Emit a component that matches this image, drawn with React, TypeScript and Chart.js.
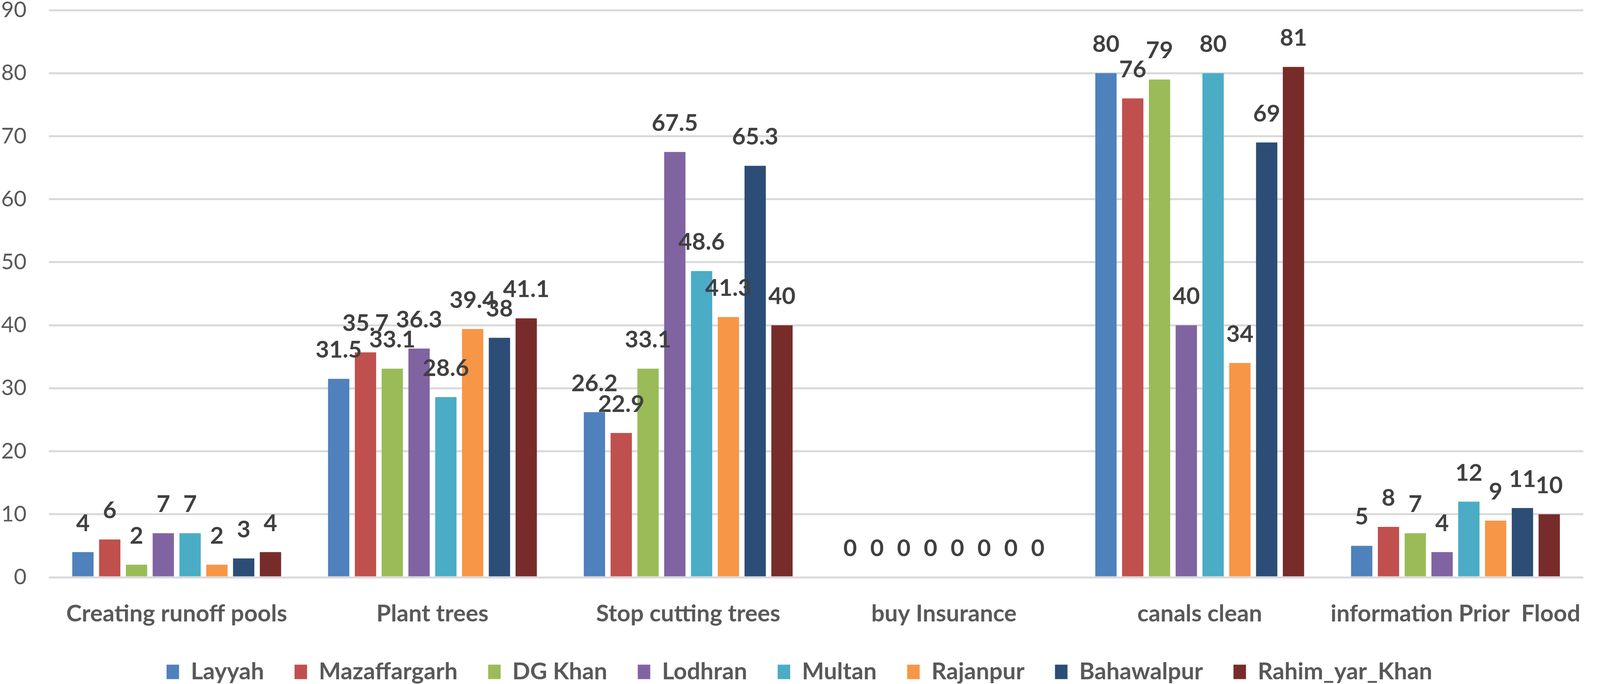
import React, { useEffect, useRef } from "react";
import { Chart, registerables } from "chart.js";

Chart.register(...registerables);

const categories = [
  "Creating runoff pools",
  "Plant trees",
  "Stop cutting trees",
  "buy Insurance",
  "canals clean",
  "information Prior  Flood",
];

const seriesNames = [
  "Layyah",
  "Mazaffargarh",
  "DG Khan",
  "Lodhran",
  "Multan",
  "Rajanpur",
  "Bahawalpur",
  "Rahim_yar_Khan",
];

const layyah = [4, 31.5, 26.2, 0, 80, 5];
const mazaffargarh = [6, 35.7, 22.9, 0, 76, 8];
const dgKhan = [2, 33.1, 33.1, 0, 79, 7];
const lodhran = [7, 36.3, 67.5, 0, 40, 4];
const multan = [7, 28.6, 48.6, 0, 80, 12];
const rajanpur = [2, 39.4, 41.3, 0, 34, 9];
const bahawalpur = [3, 38, 65.3, 0, 69, 11];
const rahimYarKhan = [4, 41.1, 40, 0, 81, 10];

const seriesValues = [layyah, mazaffargarh, dgKhan, lodhran, multan, rajanpur, bahawalpur, rahimYarKhan];

const seriesColors = ["#4F81BD", "#C0504D", "#9BBB59", "#8064A2", "#4BACC6", "#F79646", "#2C4D75", "#772C2A"];

const yMin = 0;
const yMax = 90;
const yStep = 10;

const REF_W = 4317;
const FONT = "Lato, 'Open Sans', sans-serif";

const dataLabelPlugin = {
  id: "barValueLabels",
  afterDatasetsDraw(chart: any) {
    const ctx = chart.ctx;
    ctx.save();
    ctx.font = `bold 60px ${FONT}`;
    ctx.fillStyle = "#404040";
    ctx.textAlign = "center";
    ctx.textBaseline = "alphabetic";
    chart.data.datasets.forEach((ds: any, di: number) => {
      const meta = chart.getDatasetMeta(di);
      meta.data.forEach((bar: any, i: number) => {
        const v = ds.data[i];
        ctx.fillText(String(v), bar.x, bar.y - 54);
      });
    });
    ctx.restore();
  },
};

export default function App() {
  const canvasRef = useRef<HTMLCanvasElement | null>(null);

  useEffect(() => {
    const canvas = canvasRef.current;
    if (!canvas) return;
    document.body.style.margin = "0";
    document.body.style.overflow = "hidden";
    const W = window.innerWidth || 4096;
    const H = window.innerHeight || 1750;
    const kx = W / REF_W;
    canvas.width = W;
    canvas.height = H;
    canvas.style.width = W + "px";
    canvas.style.height = H + "px";

    const legendPad = 78;
    const legendH = legendPad + 61;
    const xAxisH = 273 - legendH;

    const chart = new Chart(canvas, {
      type: "bar",
      data: {
        labels: categories,
        datasets: seriesNames.map((name, i) => ({
          label: name,
          data: seriesValues[i],
          backgroundColor: seriesColors[i],
          borderWidth: 0,
          categoryPercentage: 0.838,
          barPercentage: 0.795,
        })),
      },
      options: {
        animation: false,
        responsive: false,
        maintainAspectRatio: false,
        devicePixelRatio: 1,
        layout: { padding: { top: 0, right: 3, bottom: 0, left: 0 } },
        plugins: {
          tooltip: { enabled: false },
          legend: {
            position: "bottom",
            maxHeight: legendH,
            labels: {
              color: "#595959",
              font: { family: FONT, size: 60, weight: "bold" },
              boxWidth: Math.round(34 * kx),
              boxHeight: 37,
              padding: legendPad,
            },
          },
        },
        scales: {
          x: {
            grid: { display: false },
            border: { display: false },
            ticks: {
              color: "#595959",
              font: { family: FONT, size: 60, weight: "bold" },
              padding: 50,
              maxRotation: 0,
              minRotation: 0,
              autoSkip: false,
            },
            afterFit(scale: any) {
              scale.height = xAxisH;
            },
          },
          y: {
            min: yMin,
            max: yMax,
            border: { display: false },
            grid: {
              color: "#D9D9D9",
              lineWidth: 5,
              drawTicks: true,
              tickLength: Math.round(60 * kx),
              tickColor: "rgba(0,0,0,0)",
              tickWidth: 0,
            },
            ticks: {
              stepSize: yStep,
              color: "#595959",
              padding: 0,
              font: { family: FONT, size: 56, lineHeight: 0.93 },
            },
            afterFit(scale: any) {
              scale.width = Math.round(132 * kx);
            },
          },
        },
      },
      plugins: [dataLabelPlugin],
    });
    return () => chart.destroy();
  }, []);

  return (
    <div style={{ position: "absolute", left: 0, top: 0, background: "#ffffff" }}>
      <canvas ref={canvasRef} style={{ display: "block" }} />
    </div>
  );
}
